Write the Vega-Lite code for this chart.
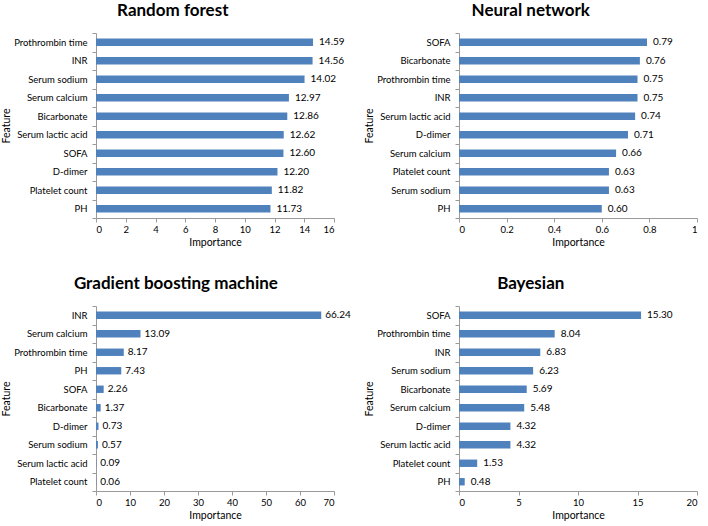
{
  "$schema": "https://vega.github.io/schema/vega-lite/v6.json",
  "padding": {"left": 1, "top": 2, "right": 0, "bottom": 0},
  "background": "white",
  "data": {
    "values": [
      {"model": "RF", "feature": "Prothrombin time", "importance": 14.59},
      {"model": "RF", "feature": "INR", "importance": 14.56},
      {"model": "RF", "feature": "Serum sodium", "importance": 14.02},
      {"model": "RF", "feature": "Serum calcium", "importance": 12.97},
      {"model": "RF", "feature": "Bicarbonate", "importance": 12.86},
      {"model": "RF", "feature": "Serum lactic acid", "importance": 12.62},
      {"model": "RF", "feature": "SOFA", "importance": 12.60},
      {"model": "RF", "feature": "D-dimer", "importance": 12.20},
      {"model": "RF", "feature": "Platelet count", "importance": 11.82},
      {"model": "RF", "feature": "PH", "importance": 11.73},
      {"model": "NN", "feature": "SOFA", "importance": 0.79},
      {"model": "NN", "feature": "Bicarbonate", "importance": 0.76},
      {"model": "NN", "feature": "Prothrombin time", "importance": 0.75},
      {"model": "NN", "feature": "INR", "importance": 0.75},
      {"model": "NN", "feature": "Serum lactic acid", "importance": 0.74},
      {"model": "NN", "feature": "D-dimer", "importance": 0.71},
      {"model": "NN", "feature": "Serum calcium", "importance": 0.66},
      {"model": "NN", "feature": "Platelet count", "importance": 0.63},
      {"model": "NN", "feature": "Serum sodium", "importance": 0.63},
      {"model": "NN", "feature": "PH", "importance": 0.60},
      {"model": "GBM", "feature": "INR", "importance": 66.24},
      {"model": "GBM", "feature": "Serum calcium", "importance": 13.09},
      {"model": "GBM", "feature": "Prothrombin time", "importance": 8.17},
      {"model": "GBM", "feature": "PH", "importance": 7.43},
      {"model": "GBM", "feature": "SOFA", "importance": 2.26},
      {"model": "GBM", "feature": "Bicarbonate", "importance": 1.37},
      {"model": "GBM", "feature": "D-dimer", "importance": 0.73},
      {"model": "GBM", "feature": "Serum sodium", "importance": 0.57},
      {"model": "GBM", "feature": "Serum lactic acid", "importance": 0.09},
      {"model": "GBM", "feature": "Platelet count", "importance": 0.06},
      {"model": "BAY", "feature": "SOFA", "importance": 15.30},
      {"model": "BAY", "feature": "Prothrombin time", "importance": 8.04},
      {"model": "BAY", "feature": "INR", "importance": 6.83},
      {"model": "BAY", "feature": "Serum sodium", "importance": 6.23},
      {"model": "BAY", "feature": "Bicarbonate", "importance": 5.69},
      {"model": "BAY", "feature": "Serum calcium", "importance": 5.48},
      {"model": "BAY", "feature": "D-dimer", "importance": 4.32},
      {"model": "BAY", "feature": "Serum lactic acid", "importance": 4.32},
      {"model": "BAY", "feature": "Platelet count", "importance": 1.53},
      {"model": "BAY", "feature": "PH", "importance": 0.48}
    ]
  },
  "columns": 2,
  "spacing": {"row": 27, "column": 13},
  "resolve": {"scale": {"x": "independent", "y": "independent"}},
  "config": {
    "font": "Lato",
    "view": {"stroke": null},
    "axis": {
      "grid": false,
      "domainColor": "#9a9a9a",
      "tickColor": "#9a9a9a",
      "tickSize": 4,
      "labelColor": "#000",
      "titleColor": "#000",
      "labelFontSize": 9.5,
      "titleFontSize": 10.5,
      "titleFontWeight": "normal"
    },
    "axisY": {
      "tickBand": "extent",
      "labelPadding": 5,
      "minExtent": 82,
      "maxExtent": 82,
      "titlePadding": 3
    },
    "axisX": {"labelPadding": 2, "titlePadding": 4},
    "scale": {"bandPaddingInner": 0, "bandPaddingOuter": 0},
    "bar": {"color": "#4f81bd"},
    "text": {"fontSize": 10, "align": "left", "baseline": "middle", "dx": 6, "color": "#000"},
    "title": {"fontSize": 17, "fontWeight": "bold", "frame": "bounds", "anchor": "middle", "color": "#000", "offset": 8}
  },
  "concat": [
    {
      "title": "Random forest",
      "width": 238, "height": 185,
      "transform": [{"filter": "datum.model == 'RF'"}],
      "encoding": {
        "y": {"field": "feature", "type": "nominal", "sort": null, "title": "Feature"},
        "x": {"field": "importance", "type": "quantitative", "title": "Importance", "scale": {"domain": [0, 16]}, "axis": {"tickCount": 8}}
      },
      "layer": [
        {"mark": {"type": "bar", "height": {"band": 0.4}}},
        {"mark": {"type": "text"}, "encoding": {"text": {"field": "importance", "type": "quantitative", "format": ".2f"}}}
      ]
    },
    {
      "title": "Neural network",
      "width": 238, "height": 185,
      "transform": [{"filter": "datum.model == 'NN'"}],
      "encoding": {
        "y": {"field": "feature", "type": "nominal", "sort": null, "title": "Feature"},
        "x": {"field": "importance", "type": "quantitative", "title": "Importance", "scale": {"domain": [0, 1]}, "axis": {"tickCount": 5, "format": "~g"}}
      },
      "layer": [
        {"mark": {"type": "bar", "height": {"band": 0.4}}},
        {"mark": {"type": "text"}, "encoding": {"text": {"field": "importance", "type": "quantitative", "format": ".2f"}}}
      ]
    },
    {
      "title": "Gradient boosting machine",
      "width": 238, "height": 185,
      "transform": [{"filter": "datum.model == 'GBM'"}],
      "encoding": {
        "y": {"field": "feature", "type": "nominal", "sort": null, "title": "Feature"},
        "x": {"field": "importance", "type": "quantitative", "title": "Importance", "scale": {"domain": [0, 70]}, "axis": {"tickCount": 7}}
      },
      "layer": [
        {"mark": {"type": "bar", "height": {"band": 0.4}}},
        {"mark": {"type": "text", "dx": 4}, "encoding": {"text": {"field": "importance", "type": "quantitative", "format": ".2f"}}}
      ]
    },
    {
      "title": "Bayesian",
      "width": 238, "height": 185,
      "transform": [{"filter": "datum.model == 'BAY'"}],
      "encoding": {
        "y": {"field": "feature", "type": "nominal", "sort": null, "title": "Feature"},
        "x": {"field": "importance", "type": "quantitative", "title": "Importance", "scale": {"domain": [0, 20]}, "axis": {"tickCount": 4}}
      },
      "layer": [
        {"mark": {"type": "bar", "height": {"band": 0.4}}},
        {"mark": {"type": "text"}, "encoding": {"text": {"field": "importance", "type": "quantitative", "format": ".2f"}}}
      ]
    }
  ]
}
